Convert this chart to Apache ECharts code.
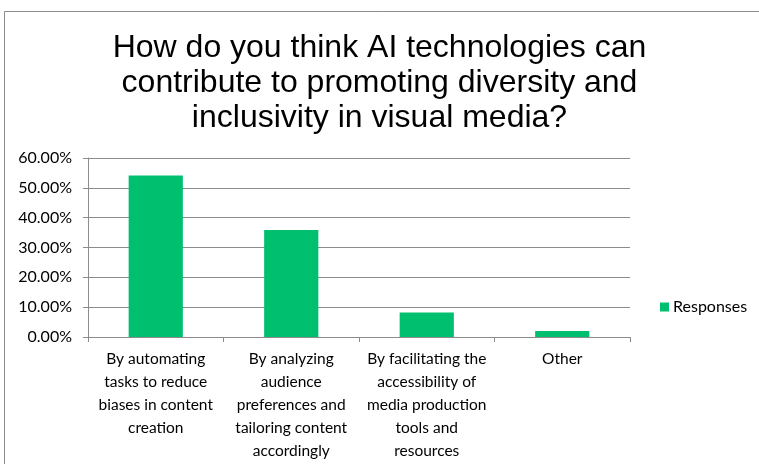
<!DOCTYPE html>
<html>
<head>
<meta charset="utf-8">
<script src="https://cdn.jsdelivr.net/npm/echarts@6/dist/echarts.min.js"></script>
<style>html,body{margin:0;padding:0;background:#fff;}#c{width:759px;height:464px;}</style>
</head>
<body>
<div id="c"></div>
<script>
const titleText = "How do you think AI technologies can\ncontribute to promoting diversity and\ninclusivity in visual media?";
const categories = [
  "By automating\ntasks to reduce\nbiases in content\ncreation",
  "By analyzing\naudience\npreferences and\ntailoring content\naccordingly",
  "By facilitating the\naccessibility of\nmedia production\ntools and\nresources",
  "Other"
];
const seriesName = "Responses";
const responses = [54.1, 35.9, 8.2, 2.0];
const yTicks = [0, 10, 20, 30, 40, 50, 60];

const chart = echarts.init(document.getElementById('c'), null, {renderer: 'canvas'});
const labelFont = "Lato, 'Noto Sans', sans-serif";
chart.setOption({
  animation: false,
  backgroundColor: '#fff',
  title: {
    text: titleText,
    left: 'center',
    top: 26,
    textStyle: {fontFamily: "'Liberation Sans', Arial, sans-serif", fontSize: 32, fontWeight: 'normal', color: '#000', lineHeight: 35}
  },
  graphic: [{
    type: 'rect', shape: {x: 4.5, y: 11.5, width: 800, height: 500},
    style: {fill: 'none', stroke: '#8c8c8c', lineWidth: 1}, silent: true, z: -1
  }],
  legend: {
    data: [seriesName],
    left: 655, top: 294,
    itemWidth: 9, itemHeight: 9, itemGap: 5,
    icon: 'rect',
    textStyle: {fontFamily: labelFont, fontSize: 16, color: '#000', padding: [0, 0, 0, -1]}
  },
  grid: {left: 88, right: 129, top: 158, bottom: 127, containLabel: false},
  xAxis: {
    type: 'category',
    data: categories,
    boundaryGap: true,
    axisLine: {lineStyle: {color: '#8c8c8c', width: 1}},
    axisTick: {show: true, length: 5, lineStyle: {color: '#8c8c8c'}},
    axisLabel: {fontFamily: labelFont, fontSize: 15.5, color: '#000', lineHeight: 23, interval: 0, margin: 10, align: 'center'}
  },
  yAxis: {
    type: 'value',
    min: 0, max: 60, interval: 10,
    axisLine: {show: true, lineStyle: {color: '#8c8c8c'}},
    axisTick: {show: true, length: 5, lineStyle: {color: '#8c8c8c'}},
    splitLine: {lineStyle: {color: '#8c8c8c', width: 1}},
    axisLabel: {fontFamily: labelFont, fontSize: 16, color: '#000', margin: 16,
      formatter: v => yTicks.includes(v) ? v.toFixed(2) + '%' : ''}
  },
  series: [{
    name: seriesName,
    type: 'bar',
    data: responses,
    barCategoryGap: '60%',
    itemStyle: {color: '#00BF6F'}
  }]
});
</script>
</body>
</html>
